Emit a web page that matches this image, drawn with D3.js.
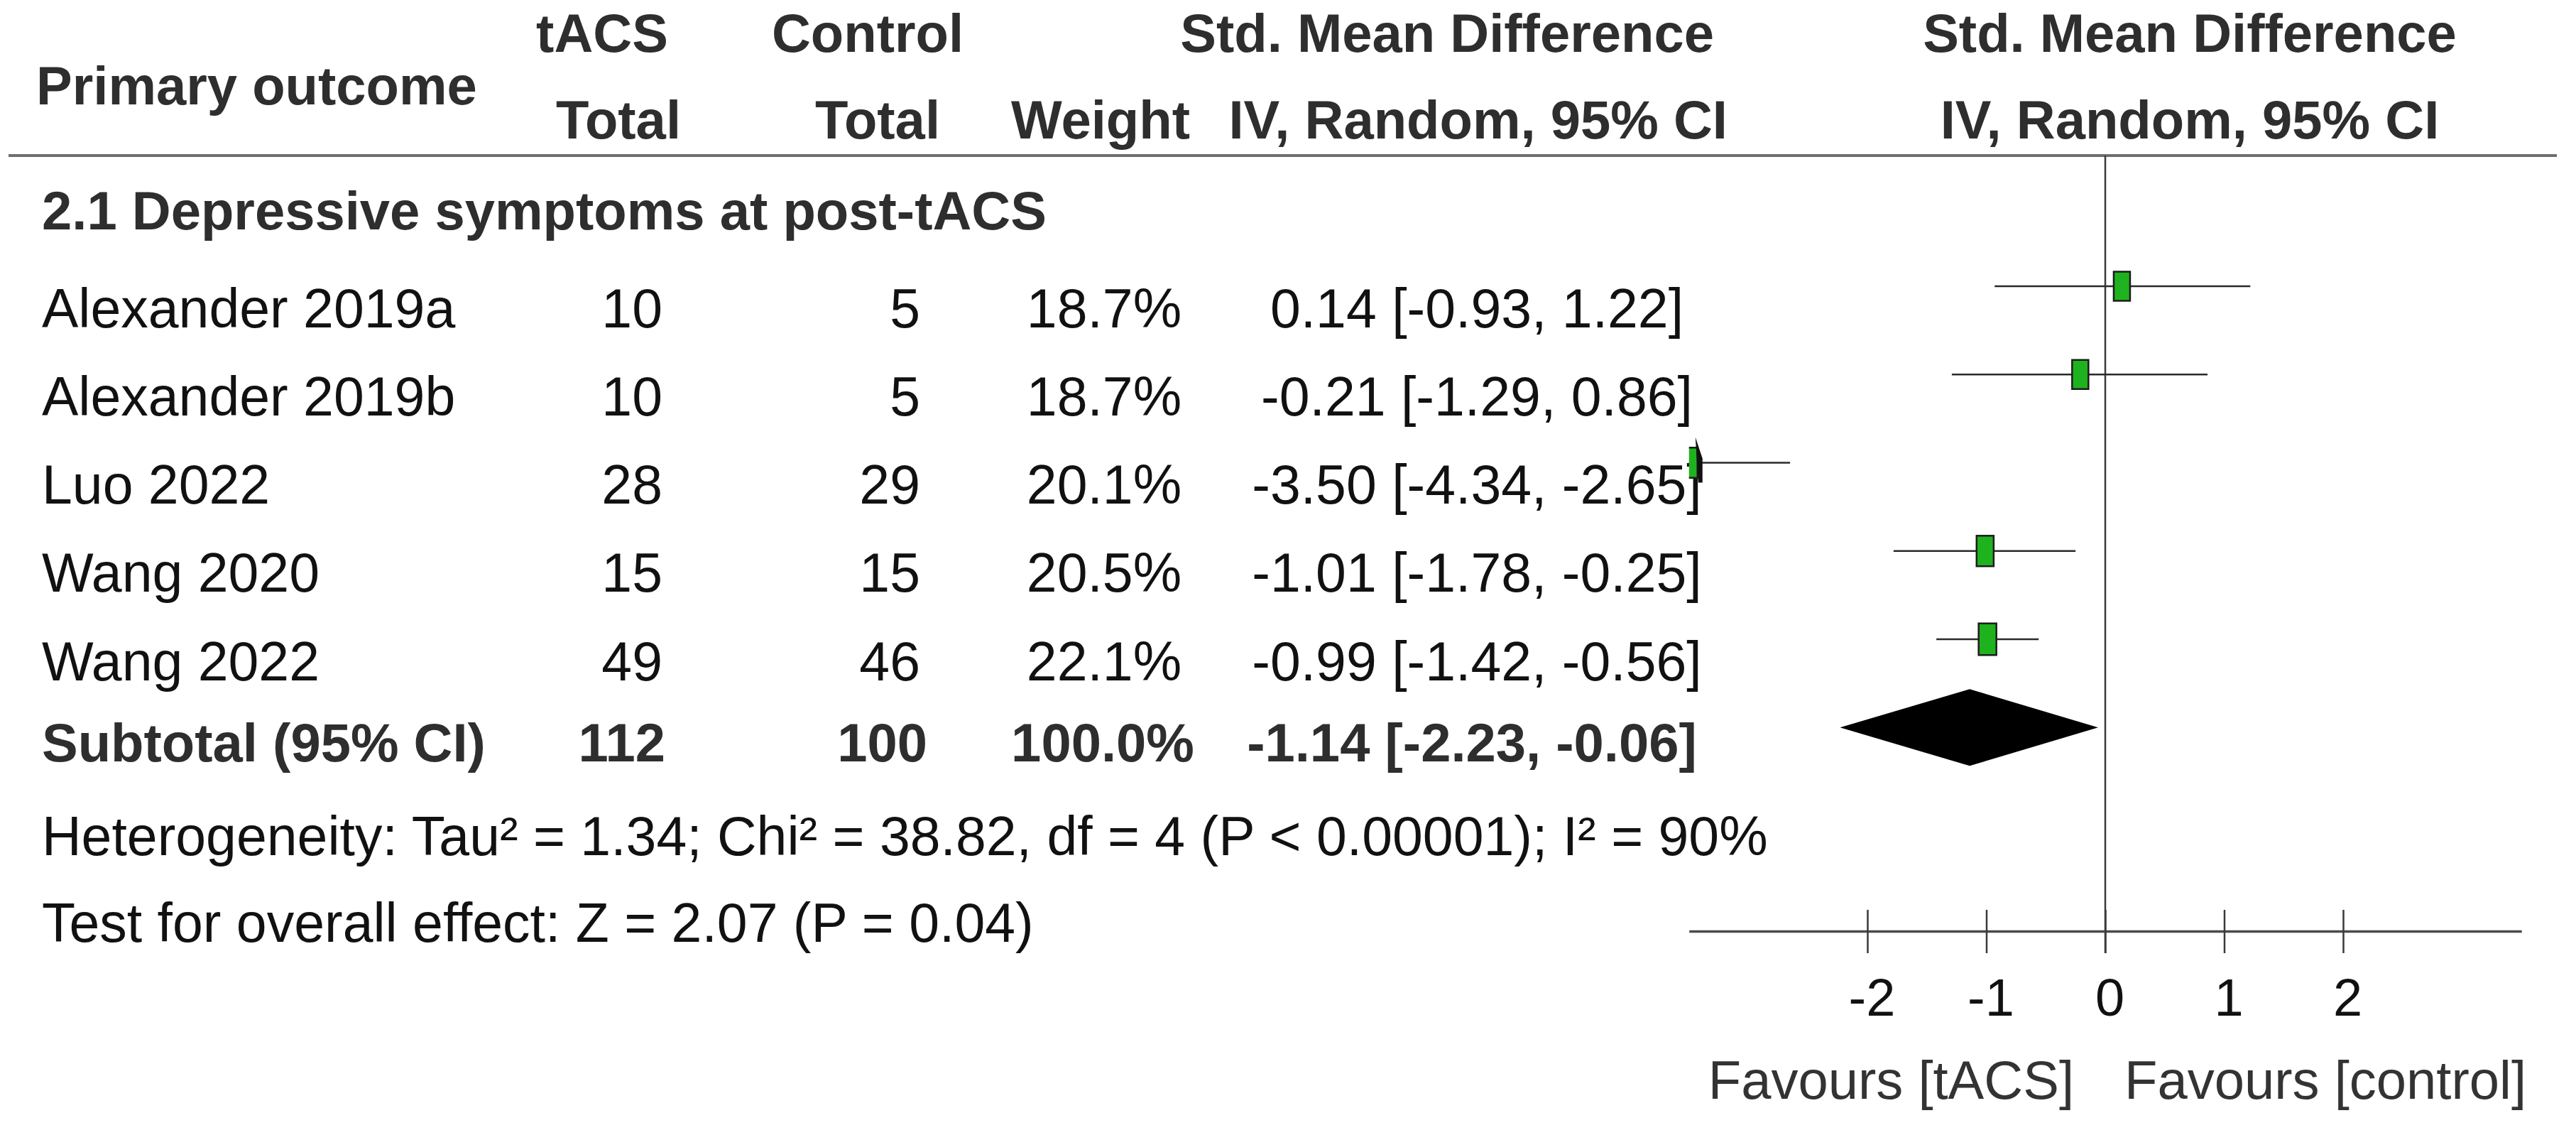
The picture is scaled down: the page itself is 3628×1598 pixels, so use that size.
<!DOCTYPE html>
<html>
<head>
<meta charset="utf-8">
<script src="https://cdn.jsdelivr.net/npm/d3@7"></script>
<style>
  body { margin: 0; background: #fff; }
  text { font-family: "Liberation Sans", Arial, sans-serif; }
</style>
</head>
<body>
<svg id="forest"></svg>
<script>
// study rows
const studies = ["Alexander 2019a", "Alexander 2019b", "Luo 2022", "Wang 2020", "Wang 2022"];
const tacsTotal = [10, 10, 28, 15, 49];
const controlTotal = [5, 5, 29, 15, 46];
const weights = [18.7, 18.7, 20.1, 20.5, 22.1];
const smd = [0.14, -0.21, -3.50, -1.01, -0.99];
const ciLow = [-0.93, -1.29, -4.34, -1.78, -1.42];
const ciHigh = [1.22, 0.86, -2.65, -0.25, -0.56];

// pooled result
const subtotalLabel = "Subtotal (95% CI)";
const subtotalN = [112, 100];
const subtotalWeight = 100.0;
const subtotalEffect = [-1.14, -2.23, -0.06]; // estimate, low, high

const sectionTitle = "2.1 Depressive symptoms at post-tACS";
const heterogeneityText = "Heterogeneity: Tau² = 1.34; Chi² = 38.82, df = 4 (P < 0.00001); I² = 90%";
const overallText = "Test for overall effect: Z = 2.07 (P = 0.04)";

const axisDomain = [-3.5, 3.5];
const axisTicks = [-2, -1, 0, 1, 2];
const favourLabels = ["Favours [tACS]", "Favours [control]"];

const width = 3628, height = 1598;
const fs = 77;
const headColor = "#2e2e2e", bodyColor = "#111";

const svg = d3.select("#forest").attr("width", width).attr("height", height);
svg.append("rect").attr("width", width).attr("height", height).attr("fill", "#fff");

var x = d3.scaleLinear().domain(axisDomain).range([2378.75, 3551.25]);
var y = d3.scaleLinear().domain([0, 4]).range([403, 900]);
var boxH = d3.scaleSqrt().domain([0, 18.7]).range([0, 41]);
var boxW = d3.scaleSqrt().domain([0, 18.7]).range([0, 23]);

// plain hyphen as minus, like the source figure
const hy = s => s.replace(/\u2212/g, "-");
const f2 = v => hy(d3.format(".2f")(v));
const f1 = d3.format(".1f");
const ciText = (m, lo, hi) => `${f2(m)} [${f2(lo)}, ${f2(hi)}]`;

function label(txt, px, py, opts) {
  opts = opts || {};
  return svg.append("text")
    .attr("x", px).attr("y", py).attr("dy", "0.36em")
    .attr("font-size", opts.size || fs)
    .attr("font-weight", opts.bold ? "bold" : "normal")
    .attr("text-anchor", opts.anchor || "start")
    .attr("fill", opts.color || bodyColor)
    .text(txt);
}

// header
const hb = { bold: true, color: headColor, size: 76 };
label("Primary outcome", 51, 120, hb);
label("tACS", 848, 46, Object.assign({ anchor: "middle" }, hb));
label("Total", 959, 168, Object.assign({ anchor: "end" }, hb));
label("Control", 1222, 46, Object.assign({ anchor: "middle" }, hb));
label("Total", 1324, 168, Object.assign({ anchor: "end" }, hb));
label("Weight", 1550, 168, Object.assign({ anchor: "middle" }, hb));
label("Std. Mean Difference", 2414, 46, Object.assign({ anchor: "end" }, hb));
label("IV, Random, 95% CI", 2433, 168, Object.assign({ anchor: "end" }, hb));
label("Std. Mean Difference", 3084, 46, Object.assign({ anchor: "middle" }, hb));
label("IV, Random, 95% CI", 3084, 168, Object.assign({ anchor: "middle" }, hb));

svg.append("line")
  .attr("x1", 12).attr("x2", 3601).attr("y1", 219).attr("y2", 219)
  .attr("stroke", "#6e6e6e").attr("stroke-width", 4);

label(sectionTitle, 59, 296, hb);

// table rows
studies.forEach((s, i) => {
  var ty = y(i) + 30;
  label(s, 59, ty);
  label(tacsTotal[i], 933, ty, { anchor: "end" });
  label(controlTotal[i], 1296, ty, { anchor: "end" });
  label(f1(weights[i]) + "%", 1555, ty, { anchor: "middle" });
  label(ciText(smd[i], ciLow[i], ciHigh[i]), 2080, ty, { anchor: "middle" });
});

var sy = y(5);
label(subtotalLabel, 59, sy + 20, hb);
label(subtotalN[0], 937, sy + 20, Object.assign({ anchor: "end" }, hb));
label(subtotalN[1], 1306, sy + 20, Object.assign({ anchor: "end" }, hb));
label(f1(subtotalWeight) + "%", 1553, sy + 20, Object.assign({ anchor: "middle" }, hb));
label(ciText(subtotalEffect[0], subtotalEffect[1], subtotalEffect[2]), 2073, sy + 20, Object.assign({ anchor: "middle" }, hb));

label(heterogeneityText, 59, 1176);
label(overallText, 59, 1298);

// plot
const axisY = 1311;
svg.append("defs").append("clipPath").attr("id", "plotClip")
  .append("rect").attr("x", x(axisDomain[0])).attr("y", 220)
  .attr("width", x(axisDomain[1]) - x(axisDomain[0])).attr("height", 1000);

svg.append("line")
  .attr("x1", x(0)).attr("x2", x(0)).attr("y1", 219).attr("y2", axisY + 31)
  .attr("stroke", "#3a3a3a").attr("stroke-width", 2.5);

const plot = svg.append("g").attr("clip-path", "url(#plotClip)");

plot.selectAll(".ci")
  .data(studies)
  .join("line")
  .attr("class", "ci")
  .attr("x1", (d, i) => x(ciLow[i]))
  .attr("x2", (d, i) => x(ciHigh[i]))
  .attr("y1", (d, i) => y(i))
  .attr("y2", (d, i) => y(i))
  .attr("stroke", "#2a2a2a")
  .attr("stroke-width", 2.5);

plot.selectAll(".box")
  .data(studies)
  .join("rect")
  .attr("class", "box")
  .attr("x", (d, i) => x(smd[i]) - boxW(weights[i]) / 2)
  .attr("y", (d, i) => y(i) - boxH(weights[i]) / 2)
  .attr("width", (d, i) => boxW(weights[i]))
  .attr("height", (d, i) => boxH(weights[i]))
  .attr("fill", "#1fb21f")
  .attr("stroke", "#1c1c1c")
  .attr("stroke-width", 2.5);

// arrows for intervals running off the scale
studies.forEach((s, i) => {
  if (ciLow[i] < axisDomain[0]) {
    var ax = x(axisDomain[0]);
    svg.append("path")
      .attr("d", `M${ax + 9},${y(i) - 36} L${ax + 19},${y(i) - 6} L${ax + 19},${y(i) + 28} L${ax + 13},${y(i) + 28} Z`)
      .attr("fill", "#111");
  }
});

svg.append("path")
  .attr("d", [
    [x(subtotalEffect[1]), sy],
    [x(subtotalEffect[0]), sy - 54],
    [x(subtotalEffect[2]), sy],
    [x(subtotalEffect[0]), sy + 54]
  ].map((p, k) => (k ? "L" : "M") + p[0] + "," + p[1]).join(" ") + " Z")
  .attr("fill", "#000");

// axis
var axisG = svg.append("g")
  .attr("transform", `translate(0,${axisY})`)
  .call(d3.axisBottom(x).tickValues(axisTicks).tickSize(31).tickSizeOuter(0).tickFormat(d => hy(d3.format("d")(d))));

axisG.select(".domain").attr("stroke", "#4a4a4a").attr("stroke-width", 3.5);
axisG.selectAll(".tick line").attr("y1", -30).attr("stroke", "#3a3a3a").attr("stroke-width", 2.5);
axisG.selectAll(".tick text")
  .attr("y", 92).attr("dy", "0.36em").attr("dx", 6)
  .attr("font-size", 74)
  .attr("font-family", "'Liberation Sans', Arial, sans-serif")
  .attr("fill", bodyColor);

label(favourLabels[0], 2921, 1520, { anchor: "end", color: "#333", size: 76 });
label(favourLabels[1], 2992, 1520, { color: "#333", size: 76 });
</script>
</body>
</html>
